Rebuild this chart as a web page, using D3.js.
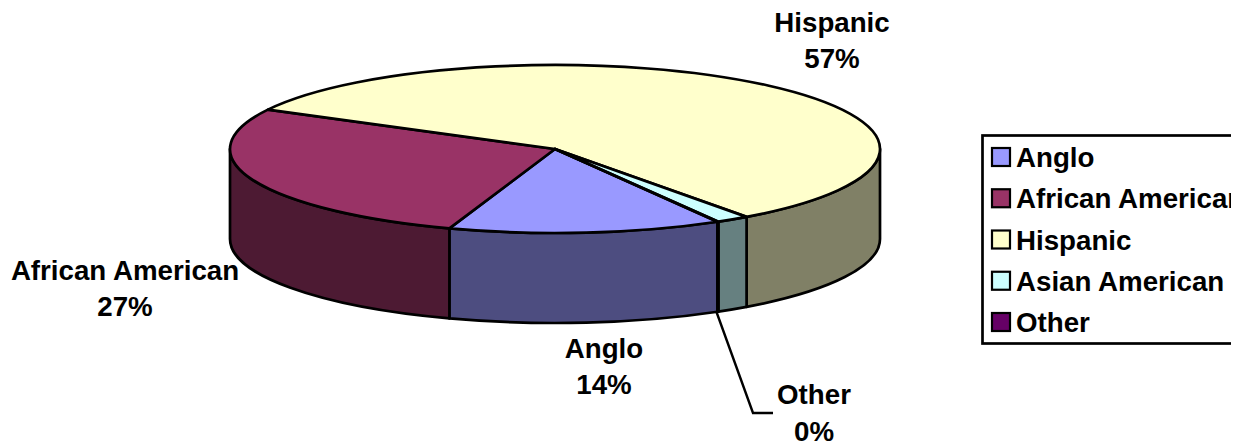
<!DOCTYPE html>
<html>
<head>
<meta charset="utf-8">
<script src="https://cdn.jsdelivr.net/npm/d3@7"></script>
<style>
html, body { margin: 0; padding: 0; background: #fff; overflow: hidden; }
svg { display: block; }
text { font-family: "Liberation Sans", Arial, sans-serif; font-weight: bold; fill: #000; }
</style>
</head>
<body>
<div id="chart"></div>
<script>
const categories = ['Anglo', 'African American', 'Hispanic', 'Asian American', 'Other'];
const shares = [13.6, 27.5, 57.2, 1.65, 0.05];
const shareLabels = ['14%', '27%', '57%', '', '0%'];
const topColors = ['#9999ff', '#993366', '#ffffcc', '#ccffff', '#660066'];
const sideColors = ['#4d4d80', '#4d1a33', '#808066', '#668080', '#330033'];

const width = 1243, height = 443;
const cx = 555, cy = 149, rx = 325, ry = 84, depth = 90;
const toRad = Math.PI / 180;

const svg = d3.select('#chart').append('svg').attr('width', width).attr('height', height);

// slices run clockwise from the Anglo edge, same as the original
const pie = d3.pie().sort(null).startAngle(150 * toRad).endAngle(510 * toRad);
const slices = pie(shares);

const px = a => cx + rx * Math.sin(a);
const py = a => cy - ry * Math.cos(a);

// visible wall of a slice: only the front half of the disc shows
const sidePath = (a0, a1) => {
	const from = Math.max(a0, Math.PI / 2), to = Math.min(a1, 1.5 * Math.PI);
	if (to <= from) return null;
	return `M${px(from)},${py(from)}A${rx},${ry} 0 0 1 ${px(to)},${py(to)}` +
		`L${px(to)},${py(to) + depth}A${rx},${ry} 0 0 0 ${px(from)},${py(from) + depth}Z`;
};

const wall = [];
slices.forEach((s, i) => {
	[0, 2 * Math.PI].forEach(off => {
		const d = sidePath(s.startAngle - off, s.endAngle - off);
		if (d) wall.push({ d, i });
	});
});

svg.append('g').selectAll('path').data(wall).enter().append('path')
	.attr('d', d => d.d)
	.attr('fill', d => sideColors[d.i])
	.attr('stroke', '#000')
	.attr('stroke-width', 2.7)
	.attr('stroke-linejoin', 'round');

// top of the disc, a flat d3 arc squashed into an ellipse
const arc = d3.arc().innerRadius(0).outerRadius(rx);
svg.append('g')
	.attr('transform', `translate(${cx},${cy}) scale(1,${ry / rx})`)
	.selectAll('path').data(slices).enter().append('path')
	.attr('d', arc)
	.attr('fill', (d, i) => topColors[i])
	.attr('stroke', '#000')
	.attr('stroke-width', 2.7)
	.attr('stroke-linejoin', 'round')
	.attr('vector-effect', 'non-scaling-stroke');

// leader line for the Other label
svg.append('path')
	.attr('d', d3.line()([[716.5, 312], [753, 413], [773, 413]]))
	.attr('fill', 'none')
	.attr('stroke', '#000')
	.attr('stroke-width', 2.4);

// data labels
const labelPos = [[604, 357.5], [125, 279.5], [832, 31.5], null, [814, 404]];
const labels = svg.append('g').attr('font-size', 27.7).attr('text-anchor', 'middle');
categories.forEach((c, i) => {
	if (!labelPos[i]) return;
	const t = labels.append('text').attr('x', labelPos[i][0]).attr('y', labelPos[i][1]);
	t.append('tspan').attr('x', labelPos[i][0]).text(c);
	t.append('tspan').attr('x', labelPos[i][0]).attr('dy', 36.5).text(shareLabels[i]);
});

// legend, cut off by the right edge of the picture
svg.append('clipPath').attr('id', 'legend-clip').append('rect')
	.attr('x', 975).attr('y', 125).attr('width', 256).attr('height', 230);

const legend = svg.append('g').attr('clip-path', 'url(#legend-clip)');
legend.append('rect')
	.attr('x', 982.5).attr('y', 135.5).attr('width', 300).attr('height', 208)
	.attr('fill', '#fff').attr('stroke', '#000').attr('stroke-width', 2.7);

const legendY = d3.scalePoint().domain(categories).range([157, 322]);
const row = legend.selectAll('g.row').data(categories).enter().append('g')
	.attr('class', 'row')
	.attr('transform', d => `translate(0,${legendY(d)})`);
row.append('rect')
	.attr('x', 992).attr('y', -9).attr('width', 18).attr('height', 18)
	.attr('fill', (d, i) => topColors[i])
	.attr('stroke', '#000').attr('stroke-width', 2.2);
row.append('text')
	.attr('x', 1016).attr('y', 10)
	.attr('font-size', 27.7)
	.text(d => d);
</script>
</body>
</html>
